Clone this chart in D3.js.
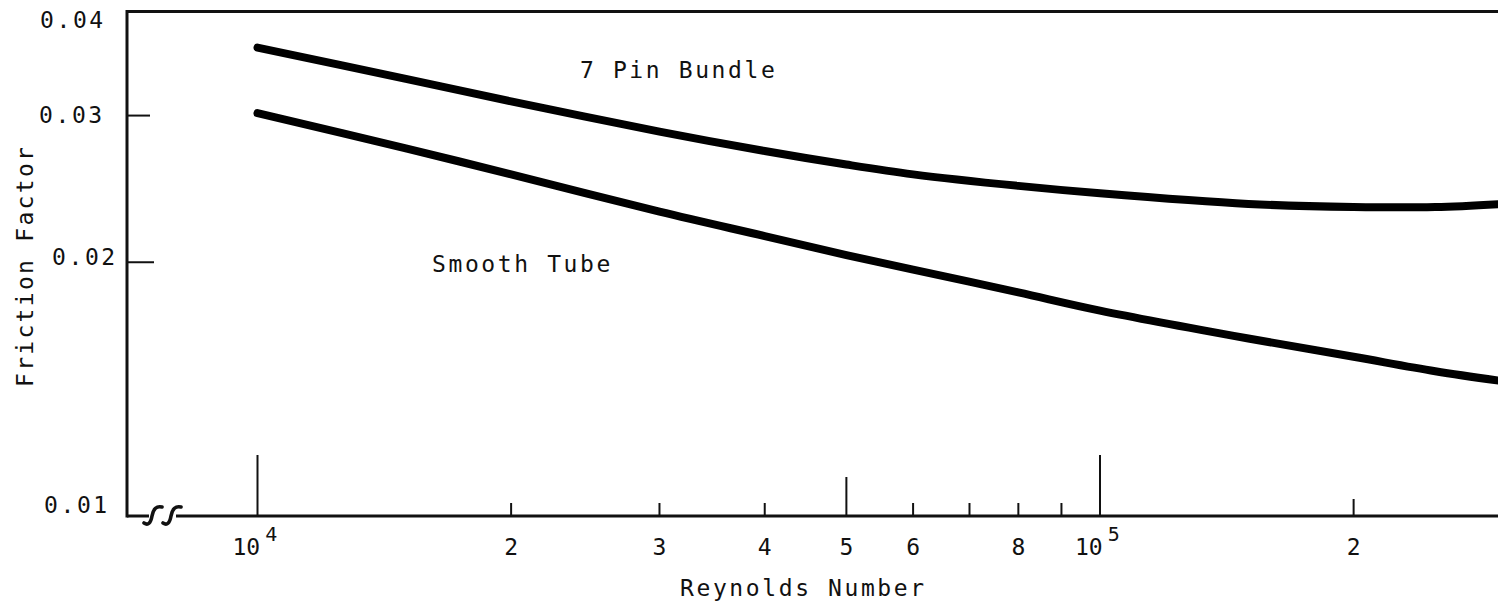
<!DOCTYPE html>
<html>
<head>
<meta charset="utf-8">
<script src="https://cdn.jsdelivr.net/npm/d3@7"></script>
<style>
  html, body { margin: 0; padding: 0; background: #fff; }
  svg { display: block; }
  text { font-family: "DejaVu Sans Mono", monospace; fill: #111; }
</style>
</head>
<body>
<svg id="chart" width="1498" height="606"></svg>
<script>
// Friction factor vs Reynolds number (log-log)
const reynolds   = [1e4, 1.5e4, 2e4, 3e4, 4e4, 5e4, 6e4, 8e4, 1e5, 1.5e5, 2e5, 2.5e5, 3e5];
const pinBundle  = [0.0362, 0.0332, 0.0312, 0.0287, 0.0272, 0.0262, 0.0255, 0.0247, 0.0242, 0.0235, 0.0233, 0.0233, 0.0235];
const smoothTube = [0.0302, 0.0274, 0.0255, 0.0230, 0.0215, 0.0204, 0.0196, 0.0184, 0.0175, 0.0162, 0.0154, 0.0148, 0.0144];

const seriesNames = ["7 Pin Bundle", "Smooth Tube"];

const yTickValues = [0.01, 0.02, 0.03, 0.04];
const yTickLabels = ["0.01", "0.02", "0.03", "0.04"];

const xTickValues = [1e4, 2e4, 3e4, 4e4, 5e4, 6e4, 7e4, 8e4, 9e4, 1e5, 2e5];
const xTickLabels = ["10|4", "2", "3", "4", "5", "6", "", "8", "", "10|5", "2"];

const xTitle = "Reynolds Number";
const yTitle = "Friction Factor";

// ---- layout ----
const frameLeft = 127, frameTop = 11.5, frameRight = 1498, axisY = 516;

const x = d3.scaleLog().domain([1e4, 1e5]).range([257.5, 1100]);
const y = d3.scaleLog().domain([0.01, 0.04]).range([513, 11.5]);

const svg = d3.select("#chart");
const ink = "#111";
const fontSize = 23;
const spacing = 2.6;

// frame: left axis, top rule
svg.append("line")
  .attr("x1", frameLeft).attr("x2", frameLeft)
  .attr("y1", frameTop - 1.5).attr("y2", axisY + 1.5)
  .attr("stroke", ink).attr("stroke-width", 3);
svg.append("line")
  .attr("x1", frameLeft).attr("x2", frameRight)
  .attr("y1", frameTop).attr("y2", frameTop)
  .attr("stroke", ink).attr("stroke-width", 3);

// bottom axis with break marks
svg.append("line")
  .attr("x1", frameLeft).attr("x2", 149)
  .attr("y1", axisY).attr("y2", axisY)
  .attr("stroke", ink).attr("stroke-width", 3);
svg.append("line")
  .attr("x1", 176).attr("x2", frameRight)
  .attr("y1", axisY).attr("y2", axisY)
  .attr("stroke", ink).attr("stroke-width", 3);
[0, 19].forEach(dx => {
  svg.append("path")
    .attr("d", `M${144 + dx},${523} Q${150 + dx},${527} ${152 + dx},${516} Q${154 + dx},${505} ${162 + dx},${507}`)
    .attr("fill", "none").attr("stroke", ink).attr("stroke-width", 3.6)
    .attr("stroke-linecap", "round");
});

// y ticks (inward) and labels
const yLabelPlace = { "0.04": [40, 28], "0.03": [39, 123], "0.02": [52, 265], "0.01": [44, 513] };
yTickValues.forEach((v, i) => {
  if (v > 0.01 && v < 0.04) {
    svg.append("line")
      .attr("x1", frameLeft).attr("x2", frameLeft + (v === 0.02 ? 27 : 23))
      .attr("y1", y(v)).attr("y2", y(v))
      .attr("stroke", ink).attr("stroke-width", 2);
  }
  const p = yLabelPlace[yTickLabels[i]];
  svg.append("text")
    .attr("x", p[0]).attr("y", p[1])
    .attr("font-size", fontSize).attr("letter-spacing", spacing)
    .text(yTickLabels[i]);
});

// x ticks (upward from axis) and labels
const tickLen = v => {
  const m = v / Math.pow(10, Math.floor(Math.log10(v) + 1e-9));
  if (Math.abs(m - 1) < 1e-6) return 61;
  if (Math.abs(m - 5) < 1e-6) return 39;
  if (Math.abs(m - 2) < 1e-6 && v > 1e5) return 17;
  return 13;
};
xTickValues.forEach((v, i) => {
  const px = x(v);
  svg.append("line")
    .attr("x1", px).attr("x2", px)
    .attr("y1", axisY).attr("y2", axisY - tickLen(v))
    .attr("stroke", ink).attr("stroke-width", 2);
  const lab = xTickLabels[i];
  if (!lab) return;
  if (lab.includes("|")) {
    const [base, exp] = lab.split("|");
    const t = svg.append("text")
      .attr("x", px - 25).attr("y", 555)
      .attr("font-size", fontSize).attr("letter-spacing", 0);
    t.append("tspan").text(base);
    t.append("tspan").attr("dx", 5).attr("dy", -14).attr("font-size", 20).text(exp);
  } else {
    svg.append("text")
      .attr("x", px).attr("y", 555)
      .attr("text-anchor", "middle")
      .attr("font-size", fontSize)
      .text(lab);
  }
});

// axis titles
svg.append("text")
  .attr("x", 680).attr("y", 596)
  .attr("font-size", fontSize).attr("letter-spacing", spacing)
  .text(xTitle);
svg.append("text")
  .attr("transform", "translate(33,387) rotate(-90)")
  .attr("font-size", fontSize).attr("letter-spacing", 2.3)
  .text(yTitle);

// curves
const line = d3.line()
  .x(d => x(d[0]))
  .y(d => y(d[1]))
  .curve(d3.curveCatmullRom.alpha(0.5));

[pinBundle, smoothTube].forEach(vals => {
  svg.append("path")
    .datum(reynolds.map((r, i) => [r, vals[i]]))
    .attr("d", line)
    .attr("fill", "none")
    .attr("stroke", "#000")
    .attr("stroke-width", 8)
    .attr("stroke-linecap", "round")
    .attr("stroke-linejoin", "round");
});

// series labels
svg.append("text")
  .attr("x", 580).attr("y", 78)
  .attr("font-size", fontSize).attr("letter-spacing", spacing)
  .text(seriesNames[0]);
svg.append("text")
  .attr("x", 432).attr("y", 272)
  .attr("font-size", fontSize).attr("letter-spacing", spacing)
  .text(seriesNames[1]);
</script>
</body>
</html>
